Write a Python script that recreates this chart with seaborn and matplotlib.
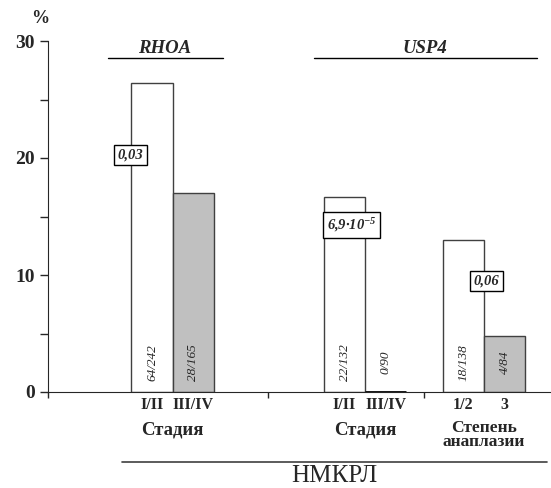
import matplotlib
matplotlib.use("Agg")
import matplotlib.pyplot as plt
import pandas as pd
import seaborn as sns

# data
bar_labels = ["I/II", "III/IV", "I/II", "III/IV", "1/2", "3"]
percent = [26.4, 17.0, 16.7, 0.0, 13.0, 4.8]
counts = ["64/242", "28/165", "22/132", "0/90", "18/138", "4/84"]
genes = ["RHOA", "USP4"]
factor_titles = ["Стадия", "Стадия", "Степень\nанаплазии"]
p_values = ["0,03", "6,9∙10$^{-5}$", "0,06"]
cohort = "НМКРЛ"

# layout (bar centres in axis units, one unit = one bar width)
x_pos = [0, 1, 4.66, 5.66, 7.54, 8.54]
bar_colors = ["white", "#c0c0c0", "white", "black", "white", "#c0c0c0"]

sns.set_style("ticks")
plt.rcParams["font.family"] = ["Liberation Serif", "DejaVu Serif"]
plt.rcParams["mathtext.fontset"] = "custom"
plt.rcParams["mathtext.rm"] = "Liberation Serif:bold:italic"
plt.rcParams["mathtext.it"] = "Liberation Serif:bold:italic"
plt.rcParams["mathtext.bf"] = "Liberation Serif:bold:italic"

df = pd.DataFrame({"pos": x_pos, "pct": percent})

fig = plt.figure(figsize=(5.51, 4.88), dpi=100)
ax = fig.add_axes([48 / 551, 96 / 488, 503 / 551, 351 / 488])
sns.barplot(data=df, x="pos", y="pct", native_scale=True, width=1.0,
            color="white", edgecolor="#404040", linewidth=1.0, ax=ax)
for patch, c in zip(ax.patches, bar_colors):
    patch.set_facecolor(c)
    if c == "black":
        patch.set_edgecolor("black")
        patch.set_linewidth(2)

ax.set_xlim(-2.52, 9.66)
ax.set_ylim(0, 30)
sns.despine(ax=ax, top=True, right=True)
ax.set_yticks([0, 10, 20, 30])
ax.set_yticks([5, 15, 25], minor=True)
ax.tick_params(axis="y", which="both", direction="out", length=6,
               width=1, labelsize=14)
for t in ax.get_yticklabels():
    t.set_fontweight("bold")
ax.set_xticks([-2.52, 2.81, 6.59])
ax.set_xticklabels([])
ax.tick_params(axis="x", direction="out", length=4, width=1)
ax.set_xlabel("")
ax.set_ylabel("")

ax.text(-2.71, 31.9, "%", ha="center", va="center", fontsize=13,
        fontweight="bold", clip_on=False)

# gene headers with lines
ax.text(0.31, 29.4, genes[0], ha="center", va="center", fontsize=13.5,
        fontweight="bold", fontstyle="italic", clip_on=False)
ax.plot([-1.07, 1.72], [28.55, 28.55], color="black", lw=1, clip_on=False)
ax.text(6.61, 29.4, genes[1], ha="center", va="center", fontsize=13.5,
        fontweight="bold", fontstyle="italic", clip_on=False)
ax.plot([3.92, 9.32], [28.55, 28.55], color="black", lw=1, clip_on=False)

# counts inside bars
for x, s in zip(x_pos, counts):
    ax.text(x, 2.5, s, rotation=90, ha="center", va="center", fontsize=9.5,
            fontstyle="italic")

# p-value boxes
box = dict(boxstyle="square,pad=0.25", fc="white", ec="black", lw=1)
for (x, y), s in zip([(-0.53, 20.26), (4.84, 14.27), (8.09, 9.49)], p_values):
    ax.text(x, y, s, ha="center", va="center", fontsize=10.5, fontweight="bold",
            fontstyle="italic", bbox=box, zorder=5)

# category labels under axis
for x, s in zip(x_pos, bar_labels):
    ax.text(x, -1.1, s, ha="center", va="center", fontsize=11.5,
            fontweight="bold", clip_on=False)
mids = [(x_pos[0] + x_pos[1]) / 2, (x_pos[2] + x_pos[3]) / 2,
        (x_pos[4] + x_pos[5]) / 2]
for x, s, y, fs in zip(mids, factor_titles, [-3.25, -3.25, -3.65],
                       [13.5, 13.5, 12.5]):
    ax.text(x, y, s, ha="center", va="center", fontsize=fs,
            fontweight="bold", linespacing=0.8, clip_on=False)

ax.plot([-0.73, 9.57], [-5.95, -5.95], color="#404040", lw=1.2, clip_on=False)
ax.text(4.41, -7.2, cohort, ha="center", va="center", fontsize=18,
        clip_on=False)

fig.savefig("out.png", dpi=100)
